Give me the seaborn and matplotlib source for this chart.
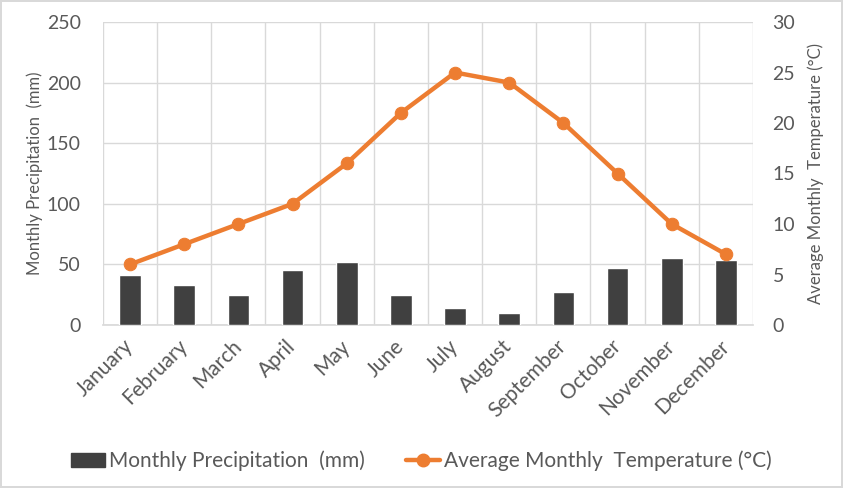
import matplotlib
matplotlib.use("Agg")
import matplotlib.pyplot as plt
import seaborn as sns
import pandas as pd
from matplotlib.lines import Line2D
from matplotlib.patches import Patch

months = ["January", "February", "March", "April", "May", "June", "July",
          "August", "September", "October", "November", "December"]
precip = [41, 33, 25, 45, 52, 25, 14, 10, 27, 47, 55, 54]
temp = [6, 8, 10, 12, 16, 21, 25, 24, 20, 15, 10, 7]
left_ticks = [0, 50, 100, 150, 200, 250]
right_ticks = [0, 5, 10, 15, 20, 25, 30]

df = pd.DataFrame({"month": months, "precip": precip, "temp": temp})

sns.set_theme(style="white")
plt.rcParams["font.family"] = ["Lato", "DejaVu Sans"]
TXT = "#595959"
GRID = "#d9d9d9"
BAR = "#404040"
ORANGE = "#ED7D31"

fig = plt.figure(figsize=(8.43, 4.88), dpi=100)
fig.patch.set_facecolor("white")
fig.patch.set_edgecolor("#d9d9d9")
fig.patch.set_linewidth(1.5)
ax = fig.add_axes([103/843, 1-325/488, 650/843, 303/488])

sns.barplot(data=df, x="month", y="precip", order=months, color=BAR,
            width=0.4, saturation=1, ax=ax, zorder=3)
ax.set_ylim(0, 250)
ax.set_yticks(left_ticks)
ax.set_xlim(-0.5, 11.5)
ax.set_xticks(range(12))
ax.set_xticks([i - 0.5 for i in range(13)], minor=True)
ax.grid(True, axis="y", which="major", color=GRID, lw=1, zorder=0)
ax.grid(True, axis="x", which="minor", color=GRID, lw=1, zorder=0)
ax.grid(False, axis="x", which="major")
ax.set_axisbelow(True)
for s in ax.spines.values():
    s.set_visible(False)
ax.spines["bottom"].set_visible(True)
ax.spines["bottom"].set_color(GRID)
ax.tick_params(axis="y", length=0, pad=16, labelsize=14, labelcolor=TXT)
ax.tick_params(axis="x", which="both", length=0, pad=13, labelsize=15, labelcolor=TXT)
ax.set_xticklabels(months, rotation=45, ha="right", va="center", rotation_mode="anchor")
ax.set_xlabel("")
ax.set_ylabel("Monthly Precipitation  (mm)", fontsize=12, color=TXT, labelpad=3)

ax2 = ax.twinx()
sns.lineplot(x=list(range(12)), y=temp, ax=ax2, color=ORANGE, lw=3.2,
             marker="o", markersize=9, markeredgecolor=ORANGE, zorder=5)
ax2.set_ylim(0, 30)
ax2.set_yticks(right_ticks)
ax2.set_xlim(-0.5, 11.5)
for s in ax2.spines.values():
    s.set_visible(False)
ax2.grid(False)
ax2.tick_params(axis="y", length=0, pad=14, labelsize=14, labelcolor=TXT)
ax2.set_ylabel("Average Monthly  Temperature (°C)", fontsize=12, color=TXT, labelpad=9)

handles = [Patch(facecolor=BAR, edgecolor=BAR),
           Line2D([0], [0], color=ORANGE, lw=3.2, marker="o", markersize=9)]
labels = ["Monthly Precipitation  (mm)", "Average Monthly  Temperature (°C)"]
fig.legend(handles, labels, loc="center", bbox_to_anchor=(0.5, 1-461/488),
           ncol=2, frameon=False, fontsize=15, labelcolor=TXT,
           handlelength=1.6, handletextpad=0.2, columnspacing=2.0)

fig.savefig("out.png", dpi=100, facecolor=fig.get_facecolor(), edgecolor=fig.get_edgecolor())
